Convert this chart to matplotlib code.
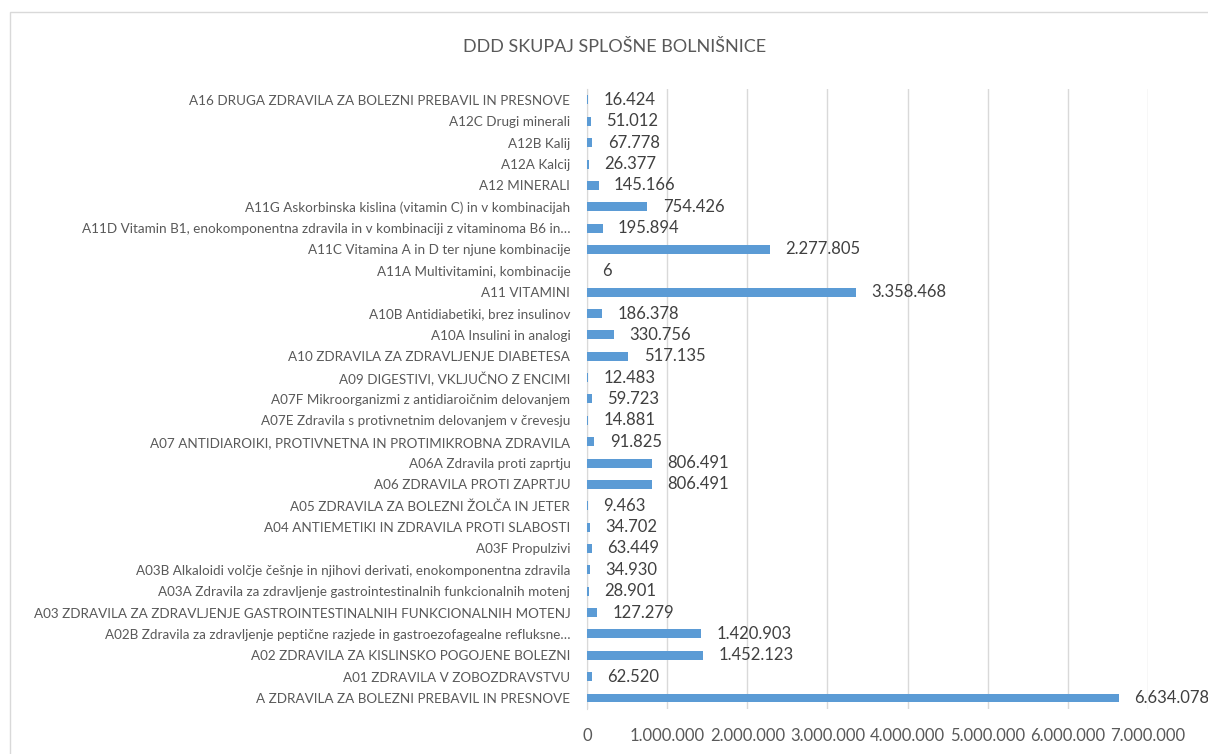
import matplotlib.pyplot as plt
from matplotlib.patches import Rectangle
from matplotlib.ticker import FuncFormatter

# categories from top to bottom, as in the reference
categories = [
    "A16 DRUGA ZDRAVILA ZA BOLEZNI PREBAVIL IN PRESNOVE",
    "A12C Drugi minerali",
    "A12B Kalij",
    "A12A Kalcij",
    "A12 MINERALI",
    "A11G Askorbinska kislina (vitamin C) in v kombinacijah",
    "A11D Vitamin B1, enokomponentna zdravila in v kombinaciji z vitaminoma B6 in…",
    "A11C Vitamina A in D ter njune kombinacije",
    "A11A Multivitamini, kombinacije",
    "A11 VITAMINI",
    "A10B Antidiabetiki, brez insulinov",
    "A10A Insulini in analogi",
    "A10 ZDRAVILA ZA ZDRAVLJENJE DIABETESA",
    "A09 DIGESTIVI, VKLJUČNO Z ENCIMI",
    "A07F Mikroorganizmi z antidiaroičnim delovanjem",
    "A07E Zdravila s protivnetnim delovanjem v črevesju",
    "A07 ANTIDIAROIKI, PROTIVNETNA IN PROTIMIKROBNA ZDRAVILA",
    "A06A Zdravila proti zaprtju",
    "A06 ZDRAVILA PROTI ZAPRTJU",
    "A05 ZDRAVILA ZA BOLEZNI ŽOLČA IN JETER",
    "A04 ANTIEMETIKI IN ZDRAVILA PROTI SLABOSTI",
    "A03F Propulzivi",
    "A03B Alkaloidi volčje češnje in njihovi derivati, enokomponentna zdravila",
    "A03A Zdravila za zdravljenje gastrointestinalnih funkcionalnih motenj",
    "A03 ZDRAVILA ZA ZDRAVLJENJE GASTROINTESTINALNIH FUNKCIONALNIH MOTENJ",
    "A02B Zdravila za zdravljenje peptične razjede in gastroezofagealne refluksne…",
    "A02 ZDRAVILA ZA KISLINSKO POGOJENE BOLEZNI",
    "A01 ZDRAVILA V ZOBOZDRAVSTVU",
    "A ZDRAVILA ZA BOLEZNI PREBAVIL IN PRESNOVE",
]
values = [16424, 51012, 67778, 26377, 145166, 754426, 195894, 2277805, 6,
          3358468, 186378, 330756, 517135, 12483, 59723, 14881, 91825,
          806491, 806491, 9463, 34702, 63449, 34930, 28901, 127279,
          1420903, 1452123, 62520, 6634078]
x_ticks = [0, 1000000, 2000000, 3000000, 4000000, 5000000, 6000000, 7000000]

def dots(v, pos=None):
    return f"{int(v):,}".replace(",", ".")

plt.rcParams['font.family'] = ['Lato', 'DejaVu Sans']

fig = plt.figure(figsize=(12.08, 7.54), dpi=100)
fig.patches.append(Rectangle((10 / 1208, -0.05), 1.2, 0.05 + 1 - 12 / 754,
                             transform=fig.transFigure, fill=False,
                             edgecolor="#D9D9D9", linewidth=1))
ax = fig.add_axes([587 / 1208, 0.0601, (1148 - 587) / 1208, 0.8215])

n = len(categories)
ypos = list(range(n - 1, -1, -1))
ax.barh(ypos, values, height=0.42, color="#5B9BD5", zorder=3)
for y, v in zip(ypos, values):
    ax.annotate(dots(v), (v, y), xytext=(11, 0), textcoords="offset points",
                va="center", ha="left", fontsize=12, color="#404040")

ax.set_xlim(0, 7000000)
ax.set_ylim(-0.5, n - 0.5)
ax.set_yticks(ypos)
ax.set_yticklabels(categories, fontsize=9.7, color="#595959")
ax.set_xticks(x_ticks)
ax.xaxis.set_major_formatter(FuncFormatter(dots))
ax.tick_params(axis="x", labelsize=12, labelcolor="#595959", length=0, pad=14)
ax.tick_params(axis="y", length=0, pad=12)
ax.grid(axis="x", color="#D9D9D9", linewidth=1, zorder=0)
for s in ["top", "right", "bottom"]:
    ax.spines[s].set_visible(False)
ax.spines["left"].set_color("#D9D9D9")

fig.text(615 / 1208, 1 - 47 / 754, "DDD SKUPAJ SPLOŠNE BOLNIŠNICE",
         ha="center", va="center", fontsize=13, color="#595959")

fig.savefig("out.png", dpi=100)
